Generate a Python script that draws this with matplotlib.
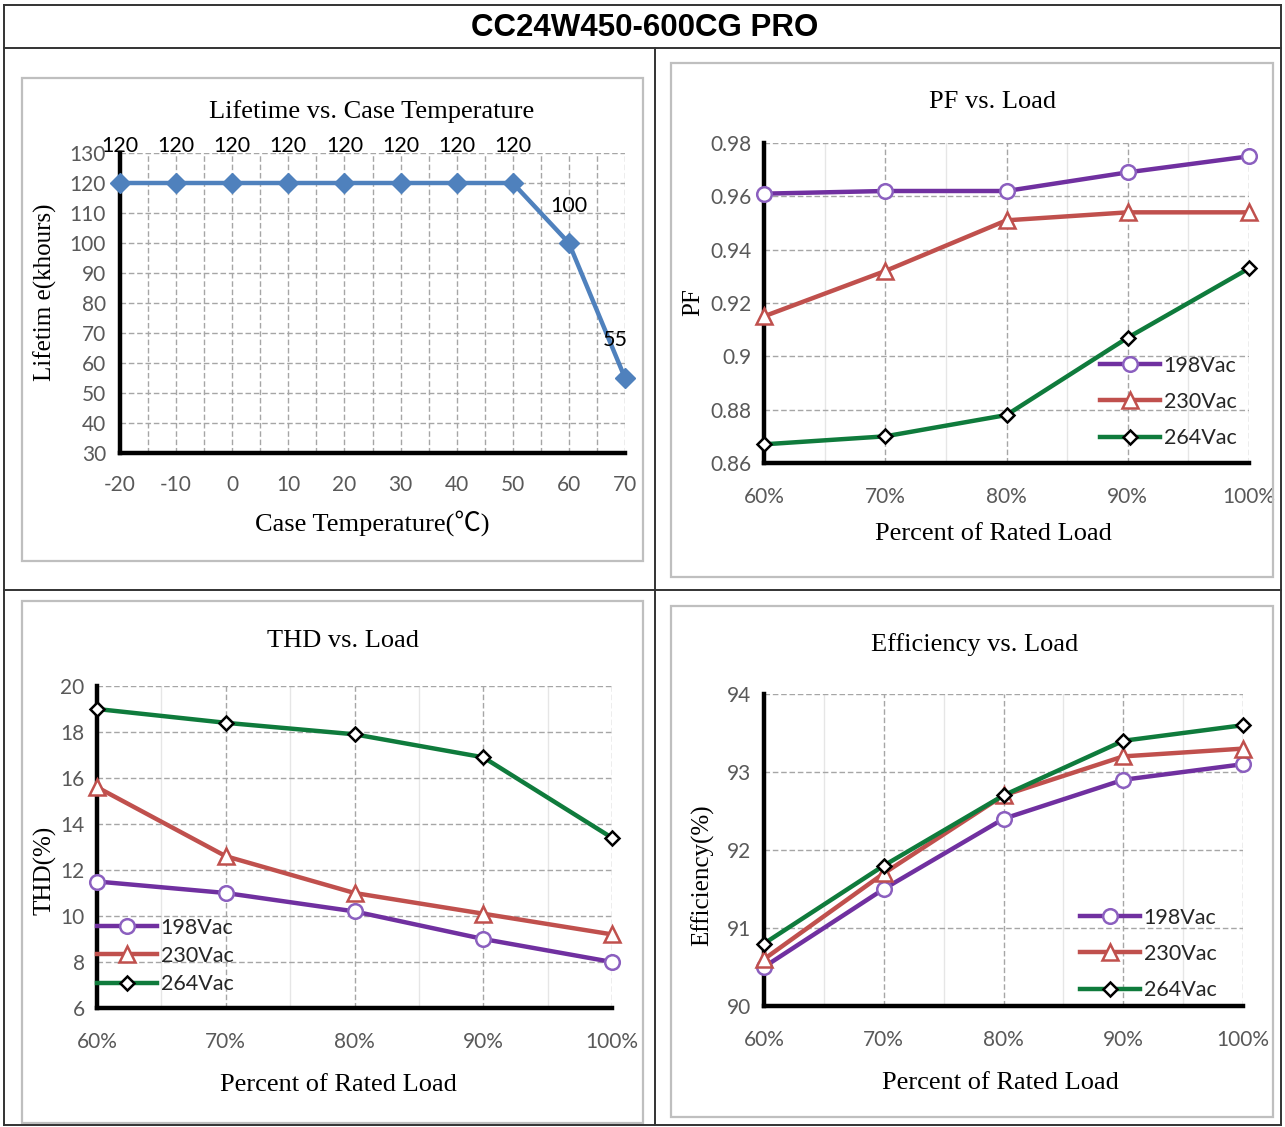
import matplotlib
matplotlib.use('Agg')
import matplotlib.pyplot as plt
from matplotlib.lines import Line2D
from matplotlib.patches import Rectangle
from matplotlib.ticker import FixedLocator

W, H = 1285, 1127

# ---------------- data ----------------
main_title = "CC24W450-600CG PRO"

temp_c = [-20, -10, 0, 10, 20, 30, 40, 50, 60, 70]
lifetime_kh = [120, 120, 120, 120, 120, 120, 120, 120, 100, 55]
life_yticks = [30, 40, 50, 60, 70, 80, 90, 100, 110, 120, 130]
life_xticks = [-20, -10, 0, 10, 20, 30, 40, 50, 60, 70]

load_pct = [60, 70, 80, 90, 100]
load_labels = ["60%", "70%", "80%", "90%", "100%"]
series_names = ["198Vac", "230Vac", "264Vac"]

pf_198 = [0.961, 0.962, 0.962, 0.969, 0.975]
pf_230 = [0.915, 0.932, 0.951, 0.954, 0.954]
pf_264 = [0.867, 0.870, 0.878, 0.907, 0.933]
pf_yticks = [0.86, 0.88, 0.90, 0.92, 0.94, 0.96, 0.98]
pf_ylabels = ["0.86", "0.88", "0.9", "0.92", "0.94", "0.96", "0.98"]

thd_198 = [11.5, 11.0, 10.2, 9.0, 8.0]
thd_230 = [15.6, 12.6, 11.0, 10.1, 9.2]
thd_264 = [19.0, 18.4, 17.9, 16.9, 13.4]
thd_yticks = [6, 8, 10, 12, 14, 16, 18, 20]

eff_198 = [90.5, 91.5, 92.4, 92.9, 93.1]
eff_230 = [90.6, 91.7, 92.7, 93.2, 93.3]
eff_264 = [90.8, 91.8, 92.7, 93.4, 93.6]
eff_yticks = [90, 91, 92, 93, 94]

# ---------------- style ----------------
SERIF = ['Liberation Serif', 'Noto Sans CJK SC', 'DejaVu Sans']
SANS = 'Lato'
TICK_C = '#595959'
GRID_C = '#A6A6A6'
LIFE_C = '#4F81BD'
S_COLORS = ['#7030A0', '#C0504D', '#0F7B3C']
S_EDGES = ['#8B5FBF', '#C0504D', '#000000']
S_MARKERS = ['o', '^', 'D']
S_MSIZE = [10.5, 11, 7.5]

fig = plt.figure(figsize=(W / 100, H / 100), dpi=100)
fig.patch.set_facecolor('white')


def fx(x):
    return x / W


def fy(y):
    return 1 - y / H


def hline(x0, x1, y, color='#333333', lw=1.4):
    fig.add_artist(Line2D([fx(x0), fx(x1)], [fy(y), fy(y)], color=color, lw=lw,
                          transform=fig.transFigure))


def vline(x, y0, y1, color='#333333', lw=1.4):
    fig.add_artist(Line2D([fx(x), fx(x)], [fy(y0), fy(y1)], color=color, lw=lw,
                          transform=fig.transFigure))


def panel(l, t, r, b):
    fig.add_artist(Rectangle((fx(l), fy(b)), fx(r) - fx(l), fy(t) - fy(b),
                             transform=fig.transFigure, fill=False,
                             edgecolor='#BFBFBF', lw=1.6))


def ptext(x, y, s, size=19, rot=0, family=SERIF, **kw):
    fig.text(fx(x), fy(y), s, ha='center', va='center', fontsize=size,
             rotation=rot, family=family, **kw)


def add_ax(l, t, r, b):
    return fig.add_axes([fx(l), fy(b), fx(r) - fx(l), fy(t) - fy(b)])


def style_ax(ax, xlim, ylim, xticks, xlabels, yticks, ylabels, minor_x,
             minor_dashed, xpad=17, ypad=9):
    ax.set_xlim(*xlim)
    ax.set_ylim(*ylim)
    ax.xaxis.set_major_locator(FixedLocator(xticks))
    ax.set_xticklabels(xlabels)
    ax.yaxis.set_major_locator(FixedLocator(yticks))
    ax.set_yticklabels(ylabels)
    ax.xaxis.set_minor_locator(FixedLocator(minor_x))
    for s in ['top', 'right']:
        ax.spines[s].set_visible(False)
    for s in ['left', 'bottom']:
        ax.spines[s].set_color('black')
        ax.spines[s].set_linewidth(3.2)
        ax.spines[s].set_zorder(5)
    ax.tick_params(which='both', length=0)
    ax.tick_params(axis='x', pad=xpad, labelsize=15, labelcolor=TICK_C)
    ax.tick_params(axis='y', pad=ypad, labelsize=15, labelcolor=TICK_C)
    for lab in ax.get_xticklabels() + ax.get_yticklabels():
        lab.set_family(SANS)
    ax.grid(True, which='major', ls=(0, (4, 2)), color=GRID_C, lw=1.0)
    if minor_dashed:
        ax.grid(True, which='minor', axis='x', ls=(0, (4, 2)), color=GRID_C, lw=1.0)
    else:
        ax.grid(True, which='minor', axis='x', ls='-', color='#E6E6E6', lw=1.0)
    ax.set_axisbelow(True)
    ax.patch.set_alpha(0)


# ---------------- table frame ----------------
hline(4, 1281, 5)
hline(4, 1281, 1125)
vline(4, 5, 1125)
vline(1281, 5, 1125)
hline(4, 1281, 48)
hline(4, 1281, 590)
vline(655, 48, 1125)
fig.text(fx(645), fy(28), main_title, ha='center', va='center', fontsize=22.5,
         fontweight='bold', family='Liberation Sans')

panel(22, 78, 643, 561)
panel(671, 63, 1273, 577)
panel(22, 601, 643, 1123)
panel(671, 606, 1273, 1117)

# ---------------- Lifetime ----------------
ax1 = add_ax(120, 153, 625, 453)
style_ax(ax1, (-20, 70), (30, 130), life_xticks, [str(v) for v in life_xticks],
         life_yticks, [str(v) for v in life_yticks],
         [t + 5 for t in life_xticks[:-1]], True, xpad=16, ypad=10)
ax1.plot(temp_c, lifetime_kh, color=LIFE_C, lw=3.2, marker='D', ms=10,
         mfc=LIFE_C, mec=LIFE_C, clip_on=False, zorder=6)
for i, (x, y) in enumerate(zip(temp_c, lifetime_kh)):
    dx = -7 if i == len(temp_c) - 1 else 0
    ax1.annotate(str(y), (x, y), xytext=(dx, 27), textcoords='offset points',
                 ha='center', va='center', fontsize=15.5, family=SANS,
                 color='black', zorder=7, annotation_clip=False)
ptext(372, 112, "Lifetime vs. Case Temperature")
ptext(372, 523, "Case Temperature(\u2103)")
ptext(45, 292, "Lifetim e(khours)", size=18, rot=90)


def load_chart(l, t, r, b, ylim, yticks, ylabels, series, title, tpos, xlpos,
               ylab, ylpos, leg_anchor, leg_spacing):
    ax = add_ax(l, t, r, b)
    style_ax(ax, (60, 100), ylim, load_pct, load_labels, yticks, ylabels,
             [65, 75, 85, 95], False)
    handles = []
    for vals, name, c, ec, m, ms in zip(series, series_names, S_COLORS, S_EDGES,
                                        S_MARKERS, S_MSIZE):
        h, = ax.plot(load_pct, vals, color=c, lw=3.2, marker=m, ms=ms, mfc='white',
                     mec=ec, mew=1.8, clip_on=False, zorder=6, label=name)
        handles.append(h)
    leg = ax.legend(handles=handles, loc='center left',
                    bbox_to_anchor=(fx(leg_anchor[0]), fy(leg_anchor[1])),
                    bbox_transform=fig.transFigure, frameon=False,
                    borderpad=0, borderaxespad=0, handlelength=2.8,
                    handletextpad=0.15, labelspacing=leg_spacing, numpoints=1,
                    prop={'family': SANS, 'size': 15.5})
    for txt in leg.get_texts():
        txt.set_color('#262626')
    leg.set_zorder(8)
    ptext(tpos[0], tpos[1], title)
    ptext(xlpos[0], xlpos[1], "Percent of Rated Load")
    ptext(ylpos[0], ylpos[1], ylab, size=18, rot=90)
    return ax


load_chart(764, 143, 1249, 463, (0.86, 0.98), pf_yticks, pf_ylabels,
           [pf_198, pf_230, pf_264], "PF vs. Load", (993, 102), (993, 534),
           "PF", (693, 302), (1100, 402), 0.76)

load_chart(97, 686, 612, 1008, (6, 20), thd_yticks, [str(v) for v in thd_yticks],
           [thd_198, thd_230, thd_264], "THD vs. Load", (343, 641), (338, 1085),
           "THD(%)", (45, 870), (97, 956), 0.38)

load_chart(764, 694, 1243, 1006, (90, 94), eff_yticks, [str(v) for v in eff_yticks],
           [eff_198, eff_230, eff_264], "Efficiency vs. Load", (975, 645),
           (1000, 1083), "Efficiency(%)", (703, 875), (1080, 954), 0.76)

fig.savefig('out.png', dpi=100, facecolor='white')
